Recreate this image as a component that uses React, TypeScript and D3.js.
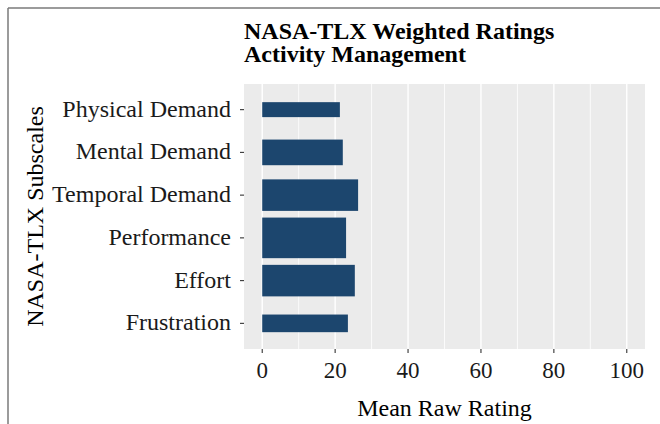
import React from 'react';
import * as d3 from 'd3';

// NASA-TLX subscales, top to bottom
const subscales = ['Physical Demand', 'Mental Demand', 'Temporal Demand', 'Performance', 'Effort', 'Frustration'];
const meanRatings = [21.3, 22.1, 26.3, 23.0, 25.4, 23.5];
// mean weights -> bar thickness
const meanWeights = [1.4, 2.4, 2.95, 3.8, 2.95, 1.65];
const xTicks = [0, 20, 40, 60, 80, 100];
const xMinor = [10, 30, 50, 70, 90];

const W = 660;
const H = 424;
const panel = { left: 244, right: 645, top: 84, bottom: 349 };
const font = '"Liberation Serif", "Times New Roman", serif';

const App = () => {
    const x = d3.scaleLinear().domain([-5, 105]).range([panel.left, panel.right]);
    const y = d3.scalePoint<string>().domain(subscales).range([panel.top, panel.bottom]).padding(0.6);
    const step = y.step();

    return (
        <svg width={W} height={H} style={{ position: 'absolute', left: 0, top: 0, background: '#fff' }}>
            {/* figure border */}
            <line x1={8} y1={8} x2={W} y2={8} stroke="#7a7a7a" strokeWidth={1.5} />
            <line x1={8} y1={8} x2={8} y2={H} stroke="#7a7a7a" strokeWidth={1.5} />

            {/* title */}
            <text x={panel.left} y={39} fontFamily={font} fontWeight="bold" fontSize={24} fill="#000">
                NASA-TLX Weighted Ratings
            </text>
            <text x={panel.left} y={62} fontFamily={font} fontWeight="bold" fontSize={24} fill="#000">
                Activity Management
            </text>

            {/* panel */}
            <rect x={panel.left} y={panel.top} width={panel.right - panel.left} height={panel.bottom - panel.top} fill="#EBEBEB" />
            {xMinor.map(v => (
                <line key={'m' + v} x1={x(v)} x2={x(v)} y1={panel.top} y2={panel.bottom} stroke="#fff" strokeWidth={0.8} />
            ))}
            {xTicks.map(v => (
                <line key={'g' + v} x1={x(v)} x2={x(v)} y1={panel.top} y2={panel.bottom} stroke="#fff" strokeWidth={1.4} />
            ))}

            {/* bars */}
            {subscales.map((s, i) => {
                const h = (meanWeights[i] / 4) * step;
                return (
                    <rect
                        key={s}
                        x={x(0)}
                        y={(y(s) as number) - h / 2}
                        width={x(meanRatings[i]) - x(0)}
                        height={h}
                        fill="#1c466e"
                    />
                );
            })}

            {/* y axis */}
            {subscales.map(s => (
                <g key={'y' + s} transform={`translate(0,${y(s)})`}>
                    <line x1={panel.left - 4} x2={panel.left} stroke="#333" strokeWidth={1.1} />
                    <text x={panel.left - 13} dy={7} textAnchor="end" fontFamily={font} fontSize={24} fill="#1a1a1a">
                        {s}
                    </text>
                </g>
            ))}

            {/* x axis */}
            {xTicks.map(v => (
                <g key={'x' + v} transform={`translate(${x(v)},${panel.bottom})`}>
                    <line y1={0} y2={4} stroke="#333" strokeWidth={1.1} />
                    <text y={29} textAnchor="middle" fontFamily={font} fontSize={23} fill="#1a1a1a">
                        {v}
                    </text>
                </g>
            ))}

            {/* axis titles */}
            <text x={(panel.left + panel.right) / 2} y={416} textAnchor="middle" fontFamily={font} fontSize={24} fill="#000">
                Mean Raw Rating
            </text>
            <text
                transform={`translate(43,${(panel.top + panel.bottom) / 2}) rotate(-90)`}
                textAnchor="middle"
                fontFamily={font}
                fontSize={24}
                fill="#000"
            >
                NASA-TLX Subscales
            </text>
        </svg>
    );
};

export default App;
